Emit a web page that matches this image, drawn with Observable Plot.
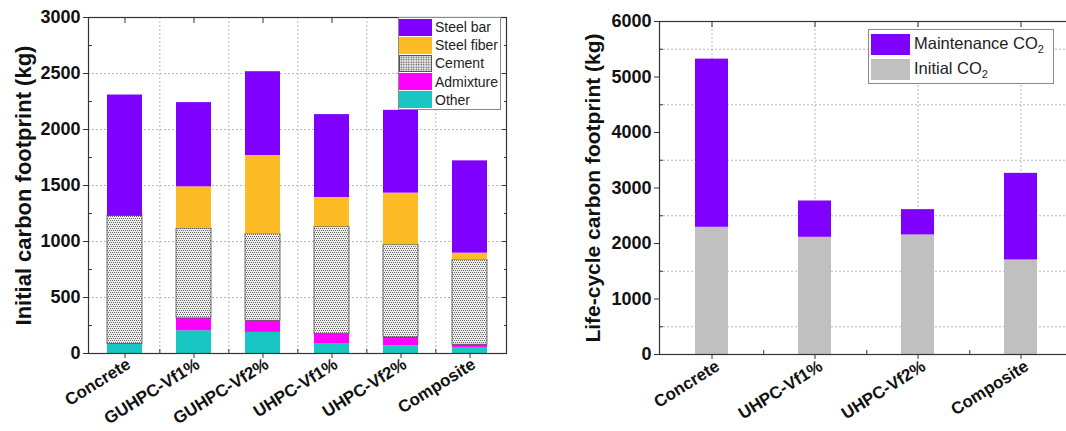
<!DOCTYPE html>
<html><head><meta charset="utf-8">
<script src="https://cdn.jsdelivr.net/npm/d3@7"></script>
<script src="https://cdn.jsdelivr.net/npm/@observablehq/plot@0.6"></script>
<style>
body{margin:0;background:#fff;font-family:"Liberation Sans",Arial,sans-serif;color:#111;}
#wrap{position:relative;width:1066px;height:431px;overflow:hidden;background:#fff;}
.chart{position:absolute;top:0;}
.legend{position:absolute;background:#fff;border:1px solid #8a8a8a;box-sizing:border-box;}
.row{display:flex;align-items:center;white-space:nowrap;}
.sw{flex:none;box-sizing:border-box;}
.cementSw{background-color:#e8e8e8;background-image:radial-gradient(#444 0.7px,transparent 0.9px);background-size:2.5px 2.5px;border:1px solid #555;}
</style></head><body><div id="wrap"></div>
<script>
// ---------- Left chart data ----------
const categoriesA = ["Concrete","GUHPC-Vf1%","GUHPC-Vf2%","UHPC-Vf1%","UHPC-Vf2%","Composite"];
const componentsA = ["Other","Admixture","Cement","Steel fiber","Steel bar"]; // stacking order bottom->top
const otherA     = [84, 203, 188, 89, 69, 54];
const admixtureA = [0, 110, 104, 84, 74, 24];
const cementA    = [1143, 803, 774, 958, 828, 756];
const fiberA     = [0, 372, 702, 262, 461, 62];
const steelBarA  = [1081, 752, 748, 740, 739, 824];
const legendOrderA = ["Steel bar","Steel fiber","Cement","Admixture","Other"];
const yTicksA = [0, 500, 1000, 1500, 2000, 2500, 3000];
const yMinorA = [250, 750, 1250, 1750, 2250, 2750];

// ---------- Right chart data ----------
const categoriesB = ["Concrete","UHPC-Vf1%","UHPC-Vf2%","Composite"];
const initialB     = [2292, 2112, 2154, 1704];
const maintenanceB = [3030, 654, 456, 1560];
const yTicksB = [0, 1000, 2000, 3000, 4000, 5000, 6000];
const yMinorB = [500, 1500, 2500, 3500, 4500, 5500];

const colors = {"Steel bar":"#7f00ff","Steel fiber":"#fdbb26","Cement":"url(#cementPat)","Admixture":"#ff00ff","Other":"#18c6c4",
                "Maintenance":"#7f00ff","Initial":"#c0c0c0"};
const gridStyle = {stroke:"#b0b0b0", strokeOpacity:1, strokeWidth:0.9, strokeDasharray:"2,2"};
const fontFam = "'Liberation Sans', Arial, sans-serif";
const fmt = d3.format("d");

const wrap = document.getElementById("wrap");

// ---------- Left chart ----------
const seriesA = {"Other":otherA,"Admixture":admixtureA,"Cement":cementA,"Steel fiber":fiberA,"Steel bar":steelBarA};
const rowsA = [];
categoriesA.forEach((c,i)=>componentsA.forEach(k=>rowsA.push({cat:c, comp:k, value:seriesA[k][i]})));
const WA=530, mlA=88, mrA=24;
const stepA = (WA-mlA-mrA)/categoriesA.length;

const plotA = Plot.plot({
  width: WA, height: 431, marginLeft: mlA, marginRight: mrA, marginTop: 17, marginBottom: 78,
  style: {fontFamily: fontFam, color:"#111", background:"transparent", overflow:"visible"},
  x: {domain: categoriesA, paddingInner: 0.5, paddingOuter: 0.25, label: null},
  y: {domain: [0,3000], label: null},
  marks: [
    Plot.gridY(yTicksA.slice(1,-1), gridStyle),
    Plot.ruleX(categoriesA.slice(0,-1), {...gridStyle, dx: stepA/2}),
    Plot.barY(rowsA, {x:"cat", y:"value", fill: d=>colors[d.comp], stroke: d=> d.comp==="Cement" ? "#4a4a4a" : "none", strokeWidth:0.8}),
    Plot.frame({stroke:"#333", strokeWidth:1.2}),
    Plot.axisY(yTicksA, {anchor:"left", tickSize:5, tickPadding:3, tickFormat: fmt, fontSize:18, fontWeight:"bold", label:null, stroke:"#333"}),
    Plot.axisY(yMinorA, {anchor:"left", tickSize:4, dx:4, text:null, label:null, stroke:"#333"}),
    Plot.axisY(yTicksA, {anchor:"right", tickSize:5, dx:-5, text:null, label:null, stroke:"#333"}),
    Plot.axisY(yMinorA, {anchor:"right", tickSize:3, dx:-3, text:null, label:null, stroke:"#333"}),
    Plot.axisX(categoriesA, {anchor:"bottom", tickSize:5, text:null, label:null, stroke:"#333"}),
    Plot.axisX(categoriesA, {anchor:"bottom", tickSize:0, tickPadding:9, tickRotate:-32, dx:4, fontSize:17, fontWeight:"bold", label:null}),
    Plot.axisX(categoriesA.slice(0,-1), {anchor:"bottom", tickSize:4, dy:-4, dx: stepA/2, text:null, label:null, stroke:"#333"}),
    Plot.axisX(categoriesA, {anchor:"top", tickSize:5, dy:5, text:null, label:null, stroke:"#333"}),
    Plot.text(["Initial carbon footprint (kg)"], {frameAnchor:"left", textAnchor:"middle", rotate:-90, dx:-65, dy:0, fontSize:22, fontWeight:"bold", fill:"#111"})
  ]
});
const defs = d3.select(plotA).insert("defs", ":first-child");
const pat = defs.append("pattern").attr("id","cementPat").attr("patternUnits","userSpaceOnUse").attr("width",4).attr("height",4);
pat.append("rect").attr("width",4).attr("height",4).attr("fill","#ececec");
[[0,0],[2,0],[1,2],[3,2]].forEach(([x,y])=>pat.append("rect").attr("x",x).attr("y",y).attr("width",1).attr("height",1).attr("fill","#666"));
plotA.classList.add("chart");
plotA.style.left = "0px";
wrap.appendChild(plotA);

// Left legend
const legA = document.createElement("div");
legA.className = "legend";
Object.assign(legA.style, {left:"398px", top:"17px", width:"103px", height:"93px", padding:"0"});
legendOrderA.forEach(k=>{
  const r = document.createElement("div"); r.className="row"; r.style.height="18.2px";
  const s = document.createElement("div"); s.className = "sw" + (k==="Cement" ? " cementSw" : "");
  Object.assign(s.style, {width:"33px", height:"17px"});
  if (k!=="Cement") s.style.background = colors[k];
  const t = document.createElement("span"); t.textContent = k; Object.assign(t.style,{fontSize:"14px", marginLeft:"3px", color:"#222"});
  r.appendChild(s); r.appendChild(t); legA.appendChild(r);
});
wrap.appendChild(legA);

// ---------- Right chart ----------
const rowsB = [];
categoriesB.forEach((c,i)=>{ rowsB.push({cat:c, comp:"Initial", value:initialB[i]}); rowsB.push({cat:c, comp:"Maintenance", value:maintenanceB[i]}); });
const WB=493, mlB=79;
const stepB = (WB-mlB)/categoriesB.length;
const plotB = Plot.plot({
  width: WB, height: 431, marginLeft: mlB, marginRight: 0, marginTop: 21, marginBottom: 77,
  style: {fontFamily: fontFam, color:"#111", background:"transparent", overflow:"visible"},
  x: {domain: categoriesB, paddingInner: 0.68, paddingOuter: 0.34, label: null},
  y: {domain: [0,6000], label: null},
  marks: [
    Plot.gridY(yMinorB, gridStyle),
    Plot.ruleX(categoriesB, gridStyle),
    Plot.barY(rowsB, {x:"cat", y:"value", fill: d=>colors[d.comp]}),
    Plot.frame({stroke:"#333", strokeWidth:1.2}),
    Plot.axisY(yTicksB, {anchor:"left", tickSize:5, tickPadding:3, tickFormat: fmt, fontSize:18, fontWeight:"bold", label:null, stroke:"#333"}),
    Plot.axisY(yMinorB, {anchor:"left", tickSize:4, dx:4, text:null, label:null, stroke:"#333"}),
    Plot.axisX(categoriesB, {anchor:"bottom", tickSize:5, text:null, label:null, stroke:"#333"}),
    Plot.axisX(categoriesB, {anchor:"bottom", tickSize:0, tickPadding:10, tickRotate:-32, dx:6, fontSize:17, fontWeight:"bold", label:null}),
    Plot.axisX(categoriesB.slice(0,-1), {anchor:"bottom", tickSize:4, dy:-4, dx: stepB/2, text:null, label:null, stroke:"#333"}),
    Plot.axisX(categoriesB, {anchor:"top", tickSize:5, dy:5, text:null, label:null, stroke:"#333"}),
    Plot.text(["Life-cycle carbon footprint (kg)"], {frameAnchor:"left", textAnchor:"middle", rotate:-90, dx:-66, dy:0, fontSize:21, fontWeight:"bold", fill:"#111"})
  ]
});
plotB.classList.add("chart");
plotB.style.left = "580px";
wrap.appendChild(plotB);

// Right legend
const legB = document.createElement("div");
legB.className = "legend";
Object.assign(legB.style, {left:"868px", top:"29px", width:"186px", height:"55px", padding:"2px 0 0 2px"});
[["Maintenance","Maintenance CO"],["Initial","Initial CO"]].forEach(([k,label])=>{
  const r = document.createElement("div"); r.className="row"; r.style.height="25px";
  const s = document.createElement("div"); s.className="sw"; Object.assign(s.style,{width:"39px", height:"21px", background:colors[k]});
  const t = document.createElement("span"); Object.assign(t.style,{fontSize:"16.5px", marginLeft:"4px", color:"#222"});
  t.innerHTML = label + "<sub style='font-size:11px'>2</sub>";
  r.appendChild(s); r.appendChild(t); legB.appendChild(r);
});
wrap.appendChild(legB);
</script>
</body></html>
